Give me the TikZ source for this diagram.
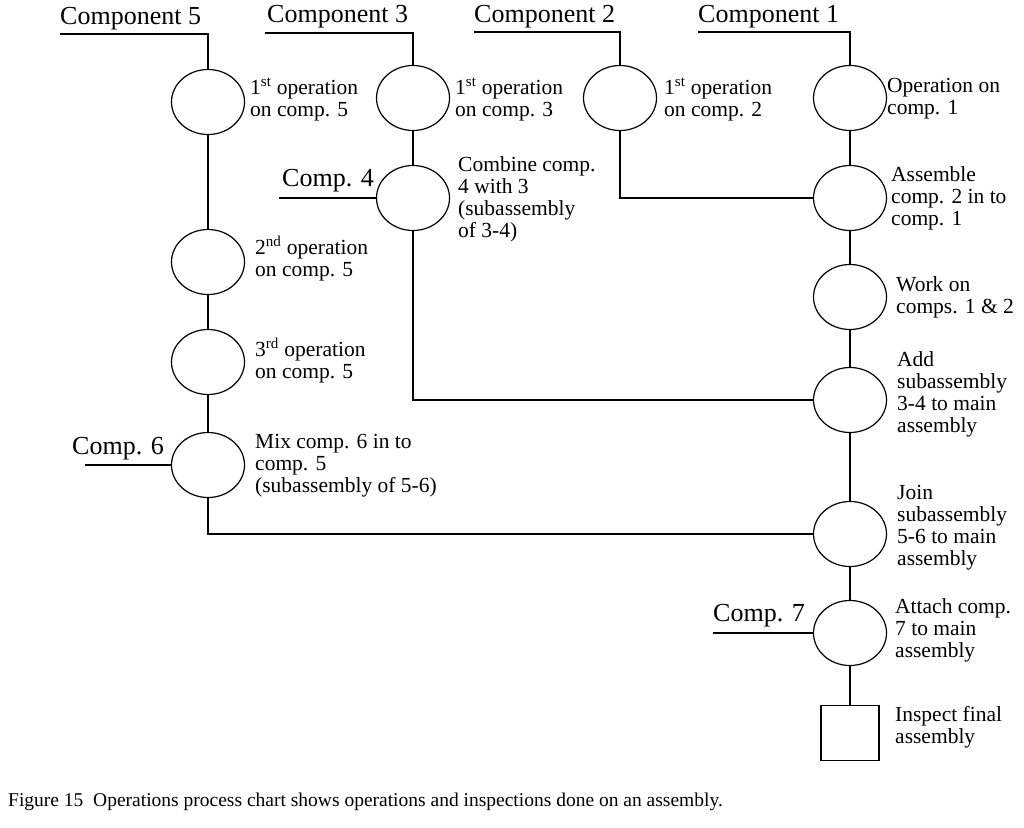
\documentclass[tikz,border=0pt]{standalone}
\usepackage{fontspec}
\setmainfont{Liberation Serif}
\usetikzlibrary{shapes.geometric}
\begin{document}
\begin{tikzpicture}[x=1pt,y=-1pt,
  op/.style={draw,line width=1.2pt,ellipse,minimum width=73pt,minimum height=65pt,inner sep=0pt},
  ln/.style={line width=1.2pt},
  lab/.style={anchor=north west,align=left,inner sep=0pt,font=\fontsize{21.5}{22}\selectfont},
  big/.style={anchor=south west,inner sep=0pt,font=\fontsize{26}{28}\selectfont}]
\useasboundingbox (0,0) rectangle (1024,827);
% nodes
\node[op] (a1) at (208,102) {};
\node[op] (a2) at (208,262) {};
\node[op] (a3) at (208,362) {};
\node[op] (a4) at (208,465) {};
\node[op] (b1) at (413,98) {};
\node[op] (b2) at (413,198) {};
\node[op] (c1) at (620,98) {};
\node[op] (d1) at (850,98) {};
\node[op] (d2) at (850,198) {};
\node[op] (d3) at (850,297) {};
\node[op] (d4) at (850,400) {};
\node[op] (d5) at (850,534) {};
\node[op] (d6) at (850,633) {};
\node[draw,line width=1.2pt,minimum width=58pt,minimum height=55pt,inner sep=0pt] (d7) at (850,733) {};
% input labels
\node[big] (t5) at (60,30) {Component 5};
\node[big] (t3) at (267,28) {Component 3};
\node[big] (t2) at (474,28) {Component 2};
\node[big] (t1) at (698,28) {Component 1};
\node[big] (t4) at (282,192) {Comp. 4};
\node[big] (t6) at (72,460) {Comp. 6};
\node[big] (t7) at (713,627) {Comp. 7};
\coordinate (s5) at (60,34);
\coordinate (s3) at (265,33);
\coordinate (s2) at (474,32);
\coordinate (s1) at (698,32);
\coordinate (s4) at (279,198);
\coordinate (s6) at (85,465);
\coordinate (s7) at (713,633);
\draw[ln] (s5) -| (a1.north);
\draw[ln] (s3) -| (b1.north);
\draw[ln] (s2) -| (c1.north);
\draw[ln] (s1) -| (d1.north);
\draw[ln] (s4) -- (b2.west);
\draw[ln] (s6) -- (a4.west);
\draw[ln] (s7) -- (d6.west);
% flow
\draw[ln] (a1) -- (a2);
\draw[ln] (a2) -- (a3);
\draw[ln] (a3) -- (a4);
\draw[ln] (b1) -- (b2);
\draw[ln] (d1) -- (d2);
\draw[ln] (d2) -- (d3);
\draw[ln] (d3) -- (d4);
\draw[ln] (d4) -- (d5);
\draw[ln] (d5) -- (d6);
\draw[ln] (d6) -- (d7);
\draw[ln] (c1.south) |- (d2.west);
\draw[ln] (b2.south) |- (d4.west);
\draw[ln] (a4.south) |- (d5.west);
% operation labels
\node[lab] (l1) at (250,78) {1\textsuperscript{st} operation\\on comp. 5};
\node[lab] (l2) at (255,236) {2\textsuperscript{nd} operation\\on comp. 5};
\node[lab] (l3) at (255,338) {3\textsuperscript{rd} operation\\on comp. 5};
\node[lab] (l4) at (255,434) {Mix comp. 6 in to\\comp. 5\\(subassembly of 5-6)};
\node[lab] (l5) at (455,78) {1\textsuperscript{st} operation\\on comp. 3};
\node[lab] (l6) at (458,156) {Combine comp.\\4 with 3\\(subassembly\\of 3-4)};
\node[lab] (l7) at (664,78) {1\textsuperscript{st} operation\\on comp. 2};
\node[lab] (l8) at (887,78) {Operation on\\comp. 1};
\node[lab] (l9) at (891,166) {Assemble\\comp. 2 in to\\comp. 1};
\node[lab] (l10) at (896,276) {Work on\\comps. 1 \& 2};
\node[lab] (l11) at (897,351) {Add\\subassembly\\3-4 to main\\assembly};
\node[lab] (l12) at (897,485) {Join\\subassembly\\5-6 to main\\assembly};
\node[lab] (l13) at (895,598) {Attach comp.\\7 to main\\assembly};
\node[lab] (l14) at (895,706) {Inspect final\\assembly};
\node[anchor=west,inner sep=0pt,font=\fontsize{19.5}{22}\selectfont] (cap) at (8,802) {Figure 15\ \ Operations process chart shows operations and inspections done on an assembly.};
\end{tikzpicture}
\end{document}
